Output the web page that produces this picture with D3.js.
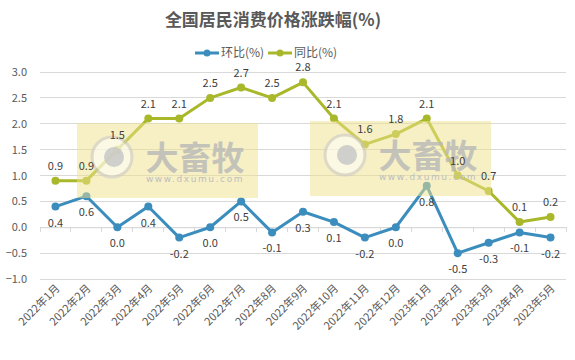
<!DOCTYPE html>
<html><head><meta charset="utf-8">
<script src="https://cdn.jsdelivr.net/npm/d3@7/dist/d3.min.js"></script>
<style>
html,body{margin:0;padding:0;background:#fff;}
svg{display:block;font-family:"Noto Sans CJK SC","Microsoft YaHei",sans-serif;}
</style></head>
<body>
<svg id="chart" width="575" height="360"></svg>
<script>
const categories = ["2022年1月","2022年2月","2022年3月","2022年4月","2022年5月","2022年6月","2022年7月","2022年8月","2022年9月","2022年10月","2022年11月","2022年12月","2023年1月","2023年2月","2023年3月","2023年4月","2023年5月"];
const mom = [0.4,0.6,0.0,0.4,-0.2,0.0,0.5,-0.1,0.3,0.1,-0.2,0.0,0.8,-0.5,-0.3,-0.1,-0.2];
const yoy = [0.9,0.9,1.5,2.1,2.1,2.5,2.7,2.5,2.8,2.1,1.6,1.8,2.1,1.0,0.7,0.1,0.2];
const yTicks = [-1.0,-0.5,0.0,0.5,1.0,1.5,2.0,2.5,3.0];
const seriesNames = ["环比(%)","同比(%)"];
const title = "全国居民消费价格涨跌幅(%)";

const colors = ["#3b8dbd","#a8b82a"];
const svg = d3.select("#chart");
const mLeft = 40, mRight = 566, mTop = 72, mBottom = 279;

const x = d3.scaleBand().domain(categories).range([mLeft, mRight]);
const y = d3.scaleLinear().domain([-1, 3]).range([mBottom, mTop]);

// title
svg.append("text").attr("x", 273).attr("y", 26).attr("text-anchor","middle")
  .attr("font-size", 17).attr("font-weight","bold").attr("fill","#595959").text(title);

// legend
const legend = [{x:195, name:seriesNames[0], c:colors[0]},{x:268, name:seriesNames[1], c:colors[1]}];
legend.forEach(l => {
  const g = svg.append("g");
  g.append("line").attr("x1", l.x).attr("x2", l.x+24).attr("y1",53).attr("y2",53)
    .attr("stroke", l.c).attr("stroke-width",3);
  g.append("circle").attr("cx", l.x+12).attr("cy",53).attr("r",3.5).attr("fill", l.c);
  g.append("text").attr("x", l.x+26).attr("y",57).attr("font-size",12).attr("fill","#595959").text(l.name);
});

// gridlines
svg.append("g").selectAll("line").data(yTicks).join("line")
  .attr("x1", mLeft).attr("x2", mRight)
  .attr("y1", d => y(d)).attr("y2", d => y(d))
  .attr("stroke", "#d9d9d9").attr("stroke-width",1).attr("shape-rendering","crispEdges");

// y-axis labels
const yAxis = d3.axisLeft(y).tickValues(yTicks).tickFormat(d3.format(".1f")).tickSize(0).tickPadding(13);
const ya = svg.append("g").attr("transform", `translate(${mLeft},0)`).call(yAxis);
ya.select(".domain").remove();
ya.selectAll("text").attr("font-size",11).attr("fill","#595959")
  .attr("font-family","'Noto Sans CJK SC',sans-serif");

// x axis at 0
const xAxis = d3.axisBottom(x).tickSize(0).tickFormat("");
const xa = svg.append("g").attr("transform", `translate(0,${y(0)})`).call(xAxis);
xa.select(".domain").attr("stroke","#d9d9d9");
// tick marks at category boundaries
const bounds = categories.map(c => x(c)).concat([mRight]);
svg.append("g").selectAll("line").data(bounds).join("line")
  .attr("x1", d=>d).attr("x2", d=>d).attr("y1", y(0)).attr("y2", y(0)+5)
  .attr("stroke","#d9d9d9").attr("shape-rendering","crispEdges");

// x labels
svg.append("g").selectAll("text").data(categories).join("text")
  .attr("transform", d => `translate(${x(d)+x.bandwidth()/2+5},${mBottom+10}) rotate(-45)`)
  .attr("text-anchor","end").attr("font-size",11).attr("fill","#595959").text(d=>d);

// lines
const cx = (d,i) => x(categories[i]) + x.bandwidth()/2;
const line = d3.line().x(cx).y(d => y(d));
[[yoy,colors[1]],[mom,colors[0]]].forEach(([data,c]) => {
  svg.append("path").datum(data).attr("d", line).attr("fill","none")
    .attr("stroke", c).attr("stroke-width",3).attr("stroke-linejoin","round");
  svg.append("g").selectAll("circle").data(data).join("circle")
    .attr("cx", cx).attr("cy", d => y(d)).attr("r",4).attr("fill", c);
});

// watermarks
[[77,123],[310,121]].forEach(([wx,wy]) => {
  const g = svg.append("g").attr("transform", `translate(${wx},${wy})`);
  g.append("rect").attr("width",181).attr("height",75).attr("fill","#efe18c").attr("opacity",0.5);
  g.append("circle").attr("cx",35).attr("cy",34).attr("r",20).attr("fill","#ffffff").attr("opacity",0.55)
    .attr("stroke","#c8c8c8").attr("stroke-width",3);
  g.append("circle").attr("cx",37).attr("cy",34).attr("r",10).attr("fill","#c4c4c4").attr("opacity",0.8);
  g.append("text").attr("x",118).attr("y",47).attr("text-anchor","middle").attr("font-size",33)
    .attr("font-weight","bold").attr("fill","#b8b8b8").attr("opacity",0.8).text("大畜牧");
  g.append("text").attr("x",118).attr("y",59).attr("text-anchor","middle").attr("font-size",9)
    .attr("letter-spacing",1.6).attr("fill","#bdbdbd").attr("font-family","'DejaVu Sans',sans-serif").text("www.dxumu.com");
});

// data labels (on top)
svg.append("g").selectAll("text").data(yoy).join("text")
  .attr("x", cx).attr("y", d => y(d) - 11).attr("text-anchor","middle")
  .attr("font-size",11).attr("fill","#404040").text(d => d.toFixed(1));
svg.append("g").selectAll("text").data(mom).join("text")
  .attr("x", cx).attr("y", d => y(d) + 20).attr("text-anchor","middle")
  .attr("font-size",11).attr("fill","#404040").text(d => d.toFixed(1));
</script>
</body></html>
